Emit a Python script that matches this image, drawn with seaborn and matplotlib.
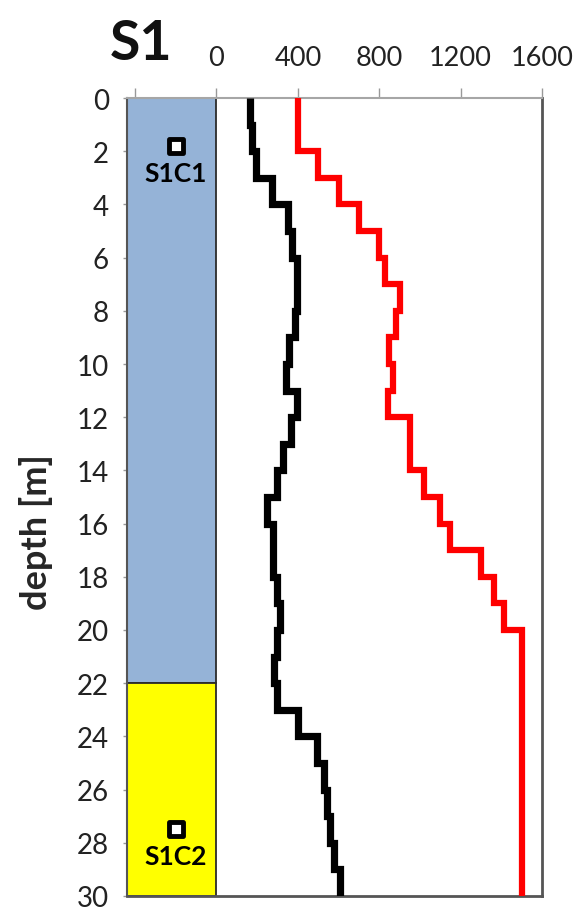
import matplotlib
matplotlib.use("Agg")
import matplotlib.pyplot as plt
import seaborn as sns
import numpy as np

# ---- data ----
black_top = list(range(0, 30))
black_bottom = list(range(1, 31))
black_vals = [165, 176, 194, 271, 354, 370, 395, 395, 387, 355,
              342, 395, 365, 329, 296, 247, 280, 280, 296, 313,
              296, 283, 296, 403, 494, 530, 543, 556, 576, 605]

red_top = [0, 2, 3, 4, 5, 6, 7, 8, 9, 10, 11, 12, 14, 15, 16, 17, 18, 19, 20]
red_bottom = [2, 3, 4, 5, 6, 7, 8, 9, 10, 11, 12, 14, 15, 16, 17, 18, 19, 20, 30]
red_vals = [400, 500, 600, 700, 800, 830, 900, 880, 850, 870,
            845, 950, 1020, 1100, 1150, 1300, 1365, 1415, 1500]

layer_top = [0, 22]
layer_bottom = [22, 30]
layer_colors = ["#95B3D7", "#FFFF00"]

sample_names = ["S1C1", "S1C2"]
sample_depth = [1.8, 27.5]
sample_x = [-200, -200]

x_ticks = [-400, 0, 400, 800, 1200, 1600]
x_ticklabels = ["", "0", "400", "800", "1200", "1600"]
y_ticks = list(range(0, 31, 2))


def steps(tops, bottoms, vals):
    xs, ys = [], []
    for t, b, v in zip(tops, bottoms, vals):
        xs += [v, v]
        ys += [t, b]
    return np.array(xs, float), np.array(ys, float)


sns.set_style("white")
plt.rcParams["font.family"] = ["Lato", "DejaVu Sans"]

fig = plt.figure(figsize=(5.85, 9.12), dpi=100)
ax = fig.add_axes([0.217, 0.0165, 0.7095, 0.8749])

# soil layers
lt = np.array(layer_top, float)
lb = np.array(layer_bottom, float)
ax.barh(y=(lt + lb) / 2, width=440, left=-440, height=lb - lt,
        color=layer_colors, edgecolor="#2b2b2b", linewidth=1.3, zorder=1)

bx, by = steps(black_top, black_bottom, black_vals)
rx, ry = steps(red_top, red_bottom, red_vals)
sns.lineplot(x=bx, y=by, sort=False, estimator=None, color="black",
             linewidth=5.2, ax=ax, zorder=3)
sns.lineplot(x=rx, y=ry, sort=False, estimator=None, color="#FF0000",
             linewidth=4.5, ax=ax, zorder=3)
for ln in ax.lines:
    ln.set_solid_joinstyle("miter")
    ln.set_solid_capstyle("butt")

# samples
ax.scatter(sample_x, sample_depth, marker="s", s=110, facecolor="white",
           edgecolor="black", linewidth=3.5, zorder=5)
for nm, xx, d in zip(sample_names, sample_x, sample_depth):
    ax.text(xx, d + 1.0, nm, ha="center", va="center", fontsize=19,
            fontweight="bold", color="black", zorder=5)

ax.set_xlim(-440, 1600)
ax.set_ylim(30, 0)
ax.xaxis.tick_top()
ax.set_xticks(x_ticks)
ax.set_xticklabels(x_ticklabels)
ax.set_yticks(y_ticks)
ax.set_yticklabels([str(v) for v in y_ticks])
ax.tick_params(axis="x", which="both", top=True, bottom=False, direction="out",
               length=7, width=1, color="#999999", labelsize=19.5, pad=13,
               labelcolor="#222222")
ax.tick_params(axis="y", which="both", left=True, right=False, direction="out",
               length=3, width=1, color="#999999", labelsize=20, pad=10,
               labelcolor="#222222")
ax.set_xlabel("")
ax.set_ylabel("depth [m]", fontsize=26, fontweight="bold")
ax.yaxis.set_label_coords(-0.178, 0.457)
ax.grid(False)

ax.spines["top"].set_color("#a6a6a6")
ax.spines["top"].set_linewidth(1.5)
ax.spines["right"].set_color("#555555")
ax.spines["right"].set_linewidth(2)
ax.spines["bottom"].set_color("#555555")
ax.spines["bottom"].set_linewidth(2)
ax.spines["left"].set_color("#555555")
ax.spines["left"].set_linewidth(1.5)

fig.text(0.188, 0.952, "S1", fontsize=40, fontweight="bold", ha="left",
         va="center", color="#111111")

fig.savefig("out.png", dpi=100)
